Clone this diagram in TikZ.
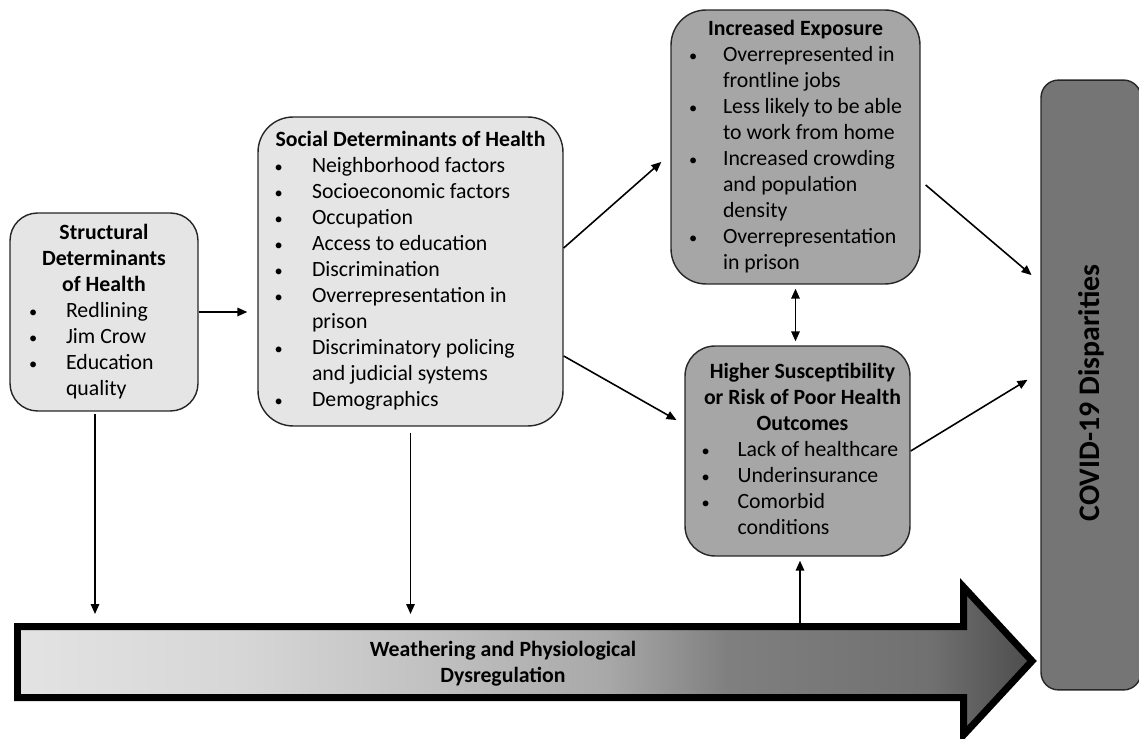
\documentclass[tikz,border=0pt]{standalone}
\usepackage{fontspec}
\setmainfont{Carlito}
\usetikzlibrary{arrows.meta}

% light to dark fill of the weathering arrow
\pgfdeclarehorizontalshading{weathering}{100bp}{color(0bp)=(black!11); color(25bp)=(black!11); color(36bp)=(black!16); color(46bp)=(black!25); color(54bp)=(black!34); color(60bp)=(black!50); color(70bp)=(black!56); color(75bp)=(black!70); color(100bp)=(black!70)}
\newcommand{\bul}{\scalebox{0.75}{\textbullet}}

\begin{document}
\begin{tikzpicture}[x=0.02cm,y=-0.02cm,
  font=\fontsize{12.4}{14.8}\selectfont,
  lightbox/.style={draw=black!85,line width=0.8pt,fill=gray!20,rounded corners=0.55cm,inner sep=0pt},
  darkbox/.style={lightbox,fill=black!35},
  conn/.style={line width=0.9pt,-{Triangle[length=0.2cm,width=0.17cm]}}]
\useasboundingbox (0,0) rectangle (1139,739);

% Weathering arrow along the bottom
\path[draw,line width=0.14cm,shading=weathering] (17.5,626.5) -- (963.5,626.5) -- (963.5,587) -- (1032,661) -- (963.5,735) -- (963.5,697.5) -- (17.5,697.5) -- cycle;
\coordinate (shafttop) at (0,626.5);
\node[font=\fontsize{12.4}{14.8}\selectfont\bfseries,align=center] (weather) at (503,664) {Weathering and Physiological\\Dysregulation};

% Determinants
\node[lightbox,minimum width=3.76cm,minimum height=3.96cm] (struct) at (104,312) {%
\begin{tabular}{@{}p{0.74cm}@{}p{2.26cm}@{}}
\multicolumn{2}{@{}c@{}}{\textbf{Structural}}\\
\multicolumn{2}{@{}c@{}}{\textbf{Determinants}}\\
\multicolumn{2}{@{}c@{}}{\textbf{of Health}}\\
\bul & Redlining\\
\bul & Jim Crow\\
\bul & Education\\
 & quality
\end{tabular}};
\node[lightbox,minimum width=6.1cm,minimum height=6.18cm,rounded corners=0.7cm] (social) at (410.5,271.5) {%
\begin{tabular}{@{}p{0.75cm}@{}p{4.69cm}@{}}
\multicolumn{2}{@{}c@{}}{\textbf{Social Determinants of Health}}\\
\bul & Neighborhood factors\\
\bul & Socioeconomic factors\\
\bul & Occupation\\
\bul & Access to education\\
\bul & Discrimination\\
\bul & Overrepresentation in\\
 & prison\\
\bul & Discriminatory policing\\
 & and judicial systems\\
\bul & Demographics
\end{tabular}};

% Exposure and susceptibility
\node[darkbox,minimum width=4.98cm,minimum height=5.48cm,rounded corners=0.7cm] (expo) at (795.5,147) {%
\begin{tabular}{@{}p{0.68cm}@{}p{3.58cm}@{}}
\multicolumn{2}{@{}c@{}}{\textbf{Increased Exposure}}\\
\bul & Overrepresented in\\
 & frontline jobs\\
\bul & Less likely to be able\\
 & to work from home\\
\bul & Increased crowding\\
 & and population\\
 & density\\
\bul & Overrepresentation\\
 & in prison
\end{tabular}};
\node[darkbox,minimum width=4.5cm,minimum height=4.2cm,rounded corners=0.6cm] (susc) at (797.5,451) {%
\hspace{0.2cm}\begin{tabular}{@{}p{0.72cm}@{}p{3.32cm}@{}}
\multicolumn{2}{@{}c@{}}{\textbf{Higher Susceptibility}}\\
\multicolumn{2}{@{}c@{}}{\textbf{or Risk of Poor Health}}\\
\multicolumn{2}{@{}c@{}}{\textbf{Outcomes}}\\
\bul & Lack of healthcare\\
\bul & Underinsurance\\
\bul & Comorbid\\
 & conditions
\end{tabular}};

% Outcome
\node[lightbox,fill=black!54,minimum width=2cm,minimum height=12.2cm,rounded corners=0.35cm] (covid) at (1091,385) {\rotatebox{90}{\fontsize{17}{20}\selectfont\bfseries COVID-19 Disparities\hspace{0.32cm}}};

% Connectors
\draw[conn,shorten >=0.2cm] (struct.east) -- (social.west |- struct.east);
\draw[conn,shorten >=0.24cm] ([yshift=0.47cm]social.east) -- ([yshift=-0.14cm]expo.west);
\draw[conn,shorten >=0.18cm] ([yshift=-1.69cm]social.east) -- ([yshift=0.53cm]susc.west);
\draw[line width=0.9pt,{Triangle[length=0.2cm,width=0.17cm]}-{Triangle[length=0.2cm,width=0.17cm]},shorten <=0.08cm,shorten >=0.08cm] (expo.south) -- (expo.south |- susc.north);
\draw[conn,shorten >=0.23cm] ([xshift=0.1cm,yshift=-0.76cm]expo.east) -- ([yshift=2.05cm]covid.west);
\draw[conn,shorten >=0.3cm] (susc.east) -- ([yshift=0.26cm]covid.west);
\draw[conn,shorten <=0.04cm,shorten >=0.25cm] ([xshift=-0.18cm]struct.south) -- ([xshift=-0.18cm]struct.south |- shafttop);
\draw[conn,shorten <=0.12cm,shorten >=0.25cm] (social.south) -- (social.south |- shafttop);
\draw[conn,shorten >=0.08cm] ([xshift=0.05cm]susc.south |- shafttop) -- ([xshift=0.05cm]susc.south);
\end{tikzpicture}
\end{document}
